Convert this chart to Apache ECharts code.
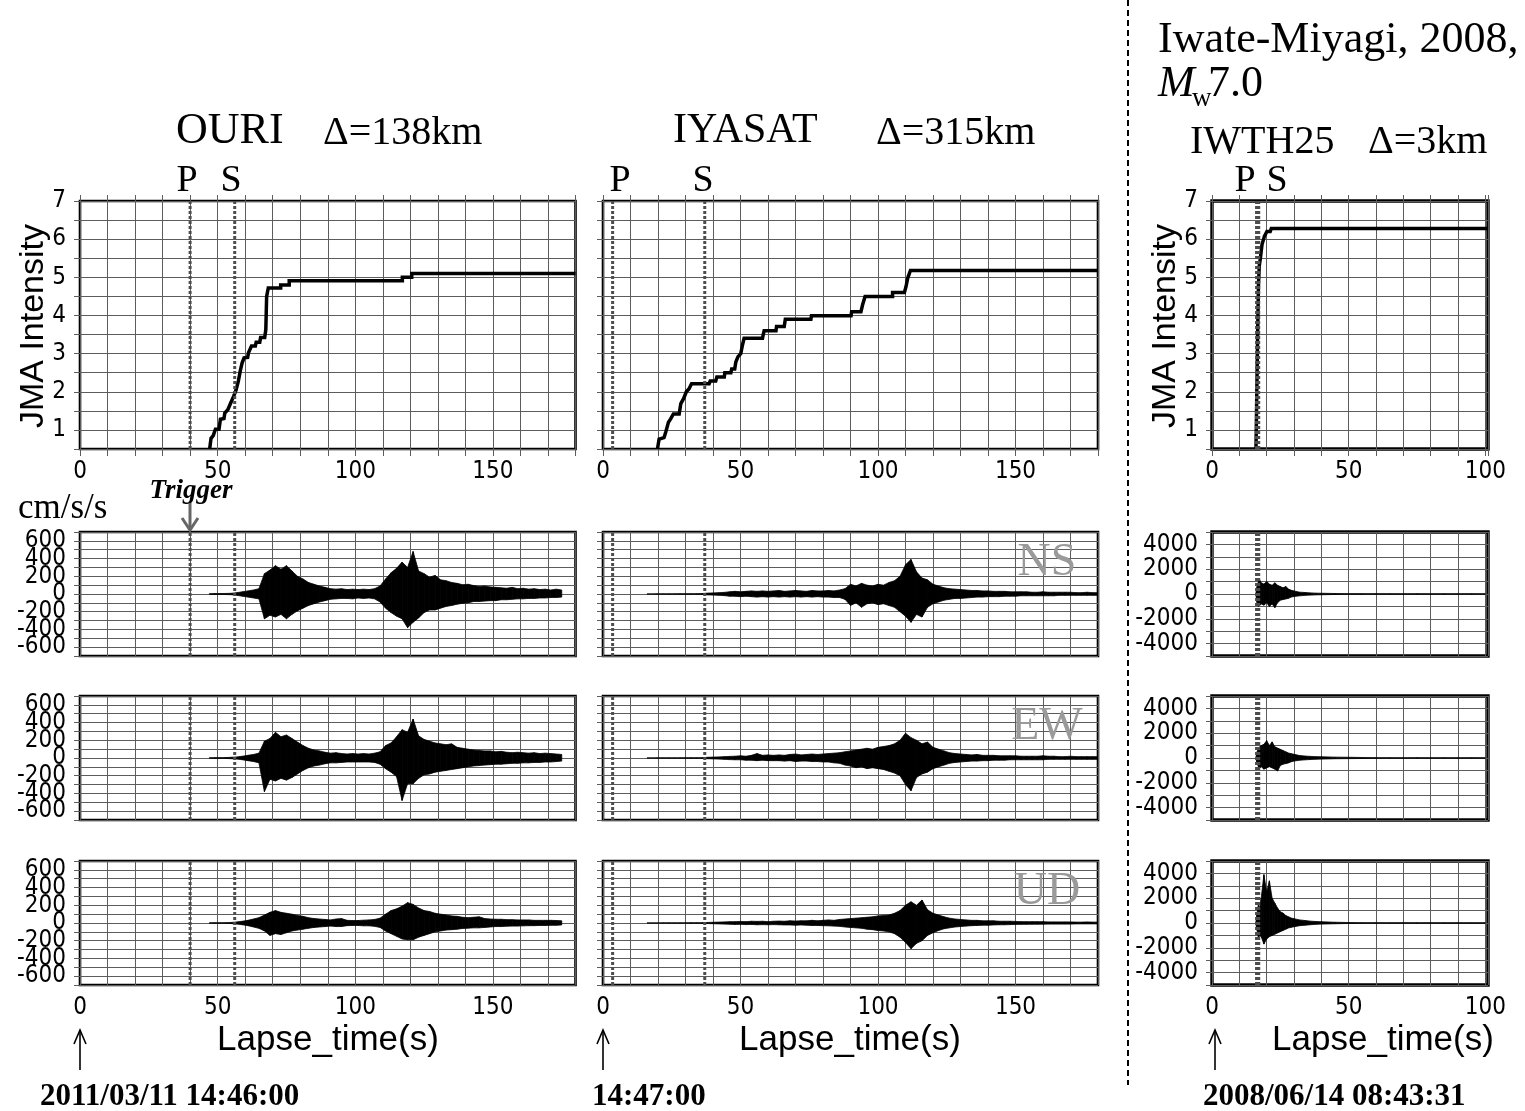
<!DOCTYPE html>
<html><head><meta charset="utf-8">
<script src="https://cdn.jsdelivr.net/npm/echarts/dist/echarts.min.js"></script>
<style>html,body{margin:0;padding:0;background:#fff}#c{width:1525px;height:1111px}</style>
</head><body><div id="c"></div><script>
// ---------------- DATA ----------------
// JMA seismic intensity growth curves: [lapse time (s), intensity]
const ouriJma = [[47.1,0.5],[47.6,0.78],[48.4,0.85],[49.2,1.02],[50.5,1.02],[51.0,1.28],[52.3,1.3],[52.6,1.44],[53.7,1.53],[54.7,1.7],[55.8,1.88],[56.7,2.05],[57.5,2.27],[58.2,2.54],[58.9,2.76],[59.6,2.89],[60.9,2.9],[61.2,3.02],[62.3,3.2],[63.7,3.2],[64.0,3.3],[65.3,3.3],[65.6,3.42],[67.1,3.42],[67.5,3.63],[67.8,4.5],[68.4,4.72],[72.9,4.72],[72.9,4.8],[76.0,4.8],[76.0,4.91],[117.1,4.91],[117.1,5.0],[120.5,5.0],[120.5,5.1],[180,5.1]];
const iyasatJma = [[19.8,0.5],[20.4,0.76],[22.2,0.8],[22.8,0.94],[23.8,1.2],[24.6,1.29],[25.6,1.42],[27.7,1.42],[28.3,1.69],[29.3,1.82],[30.3,2.0],[31.3,2.08],[32.2,2.21],[38.6,2.21],[39.0,2.28],[41.0,2.28],[41.4,2.39],[44.1,2.39],[44.3,2.5],[46.5,2.5],[46.8,2.6],[47.9,2.6],[48.3,2.78],[49.1,2.92],[50.1,3.0],[50.7,3.22],[51.3,3.4],[58.0,3.4],[58.3,3.51],[58.6,3.6],[62.9,3.6],[63.1,3.71],[65.9,3.71],[66.3,3.9],[75.6,3.9],[75.8,3.99],[90.2,3.99],[90.4,4.1],[93.8,4.1],[94.4,4.28],[95.3,4.5],[105.3,4.5],[105.3,4.6],[109.6,4.6],[110.2,4.76],[110.8,4.98],[111.8,5.18],[180,5.18]];
const iwth25Jma = [[16.1,0.5],[16.4,2.0],[16.7,3.5],[17.0,4.8],[17.3,5.3],[17.7,5.5],[18.3,5.86],[19.2,6.08],[20.1,6.2],[21.3,6.2],[21.7,6.28],[101,6.28]];

// P and S arrival times (s)
const ouriPS = [40, 56.2];
const iyasatPS = [3.5, 37];
const iwth25PS = [16.3, 17.1];

// Acceleration waveforms (cm/s/s): sample times, upper and lower envelope
const ouriT = [47,49,51,53,55,57,59,61,63,65,67,69,71,73,75,77,79,81,83,85,87,89,91,93,95,97,99,101,103,105,107,109,111,113,115,117,119,121,123,125,127,129,131,133,135,137,139,141,143,145,147,149,151,153,155,157,159,161,163,165,167,169,171,173,175];
const ouriNsHi = [4,5,5,6,8,15,25,35,45,60, 230,270,320,280,320,260,200,170,130,110, 90,75,60,55,60,50,55,50,55,50, 60,90,170,240,290,360,300,480,260,230, 190,210,160,150,130,120,105,110,95,85, 90,80,75,70,65,75,60,65,55,60, 50,55,45,55,45];
const ouriNsLo = [-4,-5,-5,-6,-8,-15,-25,-35,-45,-55, -280,-240,-260,-230,-280,-230,-190,-160,-130,-110, -90,-75,-60,-55,-50,-50,-55,-45,-50,-45, -55,-90,-160,-210,-250,-280,-380,-320,-270,-210, -180,-180,-160,-140,-130,-115,-105,-100,-85,-85, -80,-75,-75,-65,-65,-60,-55,-55,-50,-50, -45,-45,-40,-40,-35];
const ouriEwHi = [3,4,4,5,8,12,20,30,40,55, 190,220,290,240,260,220,180,140,110,90, 80,65,55,60,50,45,50,45,50,45, 55,70,140,170,240,320,290,440,250,210, 190,170,160,150,160,120,110,100,90,85, 80,80,70,75,65,60,65,60,55,60, 50,55,50,45,40];
const ouriEwLo = [-3,-4,-4,-5,-8,-12,-20,-30,-40,-55, -380,-240,-260,-230,-250,-220,-180,-140,-110,-90, -80,-65,-55,-55,-50,-45,-45,-45,-45,-45, -50,-70,-120,-160,-210,-480,-290,-290,-230,-190, -180,-160,-150,-140,-130,-120,-110,-100,-90,-85, -80,-75,-70,-70,-65,-60,-60,-55,-55,-50, -50,-45,-45,-40,-35];
const ouriUdHi = [2,3,3,4,6,12,20,30,45,60, 90,120,140,120,110,100,85,75,60,50, 45,40,35,45,50,30,28,28,32,35, 40,55,100,140,160,190,230,210,170,140, 130,110,100,90,80,75,65,60,65,70, 50,45,42,42,38,38,35,35,35,30, 30,30,30,28,25];
const ouriUdLo = [-2,-3,-3,-4,-6,-12,-20,-30,-45,-60, -90,-140,-120,-130,-110,-90,-80,-70,-60,-50, -45,-40,-35,-40,-40,-30,-28,-28,-32,-32, -38,-50,-90,-120,-150,-180,-190,-190,-160,-140, -120,-100,-90,-80,-75,-70,-62,-58,-55,-55, -50,-45,-40,-40,-36,-35,-35,-32,-30,-30, -28,-28,-26,-26,-22];

const iyasatT = [16,18,20,22,24,26,28,30,32,34,36,38,40,42,44,46,48,50,52,54,56,58,60,62,64,66,68,70,72,74,76,78,80,82,84,86,88,90,92,94,96,98,100,102,104,106,108,110,112,114,116,118,120,122,124,126,128,130,132,134,136,138,140,142,144,146,148,150,152,154,156,158,160,162,164,166,168,170,172,174,176,178,180];
const iyasatNsHi = [0.5,0.5,2,2,2,2,3,3,3,4, 5,10,12,15,18,25,30,25,30,35, 30,35,30,35,40,30,35,40,35,30, 40,35,35,40,35,45,60,110,90,120, 100,90,110,100,130,150,200,330,390,250, 180,160,110,90,70,60,55,50,45,40, 40,35,35,30,30,30,25,25,25,25, 20,20,25,20,20,20,20,20,15,15, 20,15,15];
const iyasatNsLo = [-0.5,-0.5,-2,-2,-2,-2,-3,-3,-3,-4, -5,-10,-12,-15,-18,-25,-25,-30,-25,-30, -35,-30,-35,-30,-35,-30,-35,-30,-35,-30, -35,-30,-35,-35,-40,-40,-60,-130,-100,-150, -110,-100,-120,-110,-130,-150,-200,-250,-320,-230, -260,-150,-110,-90,-70,-60,-50,-50,-45,-40, -35,-35,-30,-30,-30,-25,-25,-25,-20,-20, -20,-20,-20,-20,-20,-15,-15,-15,-15,-15, -15,-15,-15];
const iyasatEwHi = [1,1,2,2,2,2,2,3,3,3, 4,8,10,12,15,18,20,25,20,30, 50,30,35,30,35,30,40,45,35,40, 45,40,45,50,55,60,70,80,90,100, 110,100,120,130,140,160,200,280,230,200, 160,180,120,100,80,60,50,45,40,35, 40,30,30,30,25,25,25,25,20,20, 20,20,25,20,20,15,15,20,15,15, 15,15,15];
const iyasatEwLo = [-1,-1,-2,-2,-2,-2,-2,-3,-3,-3, -4,-8,-10,-12,-15,-18,-20,-20,-25,-25, -30,-25,-30,-30,-30,-35,-30,-40,-35,-35, -40,-40,-45,-45,-55,-60,-80,-90,-110,-100, -120,-110,-120,-130,-150,-170,-200,-300,-370,-220, -180,-160,-120,-100,-80,-60,-50,-45,-40,-35, -35,-30,-30,-25,-25,-25,-20,-20,-20,-20, -20,-20,-20,-15,-15,-15,-15,-15,-15,-15, -15,-15,-15];
const iyasatUdHi = [1,1,1,2,2,2,2,2,3,3, 4,6,8,10,12,15,15,18,15,20, 18,20,15,20,22,20,25,22,25,25, 30,25,30,35,30,40,45,50,55,60, 65,70,80,85,90,110,140,200,240,200, 260,150,110,90,70,55,45,40,35,30, 30,25,25,25,20,20,20,18,15,15, 15,15,15,12,12,12,12,12,10,10, 12,10,10];
const iyasatUdLo = [-1,-1,-1,-2,-2,-2,-2,-2,-3,-3, -4,-6,-8,-10,-12,-14,-16,-15,-18,-16, -20,-18,-20,-18,-20,-22,-22,-25,-22,-25, -28,-28,-30,-32,-35,-38,-45,-50,-55,-60, -70,-75,-85,-90,-100,-120,-160,-220,-290,-230, -200,-140,-110,-85,-65,-55,-45,-40,-35,-30, -28,-25,-25,-22,-20,-20,-18,-16,-15,-15, -14,-14,-13,-12,-12,-12,-12,-12,-10,-10, -10,-10,-10];

const iwth25T = [16,16.5,17,17.5,18,19,20,21,22,23,24,25,26,27,28,29,30,32,34,36,38,40,45,50,55,60,65,70,75,80,85,90,95,100];
const iwth25NsHi = [0,600,1000,1100,900,800,1000,800,700,900, 700,600,500,600,400,300,250,150,120,90, 70,60,40,30,30,30,30,25,30,25, 30,25,30,25];
const iwth25NsLo = [0,-700,-1000,-900,-800,-900,-700,-1000,-800,-1100, -700,-500,-450,-400,-350,-250,-200,-150,-110,-90, -70,-60,-40,-30,-30,-25,-30,-25,-30,-25, -30,-25,-25,-25];
const iwth25EwHi = [0,500,800,900,1000,1100,1400,1000,1300,900, 800,700,600,500,400,350,300,200,160,130, 110,100,70,60,40,30,30,25,30,25, 30,25,30,25];
const iwth25EwLo = [0,-400,-700,-800,-700,-900,-800,-700,-800,-900, -1050,-600,-500,-450,-400,-300,-250,-180,-150,-120, -100,-90,-60,-50,-40,-30,-25,-25,-25,-25, -25,-25,-25,-25];
const iwth25UdHi = [0,800,1500,1200,2000,3900,2500,3400,2000,1600, 1200,900,800,600,500,400,350,250,200,150, 120,100,60,40,30,30,25,30,25,30, 25,25,25,25];
const iwth25UdLo = [0,-600,-1200,-1000,-1100,-1700,-1300,-1100,-1000,-900, -800,-700,-600,-500,-400,-350,-300,-220,-180,-140, -110,-90,-60,-40,-30,-25,-25,-25,-25,-25, -25,-25,-25,-25];

const xMaxByCol = [180, 180, 101];
const xTickLabels = [0, 50, 100, 150];

// ---------------- LAYOUT ----------------
const SANS = '"Liberation Sans", Arial, sans-serif';
const TICKF = '"Liberation Sans Narrow", "DejaVu Sans Condensed", "Liberation Sans", Arial, sans-serif';
const SERIF = '"Liberation Serif", "Times New Roman", serif';
const colLeft = [80, 603, 1212];
const colWidth = [495.5, 495, 276];
const colBorder = [2.6, 2.6, 3.4];
const rowTop = [201, 532, 696, 861];
const rowHeight = [248, 124, 124, 124];
const GRIDC = '#5c5c5c';

const grids = [], xAxes = [], yAxes = [], xAxesTop = [], yAxesRight = [], series = [];
function gi(r, c) { return r * 3 + c; }

for (let r = 0; r < 4; r++) {
  for (let c = 0; c < 3; c++) {
    const g = gi(r, c);
    grids.push({ left: colLeft[c], top: rowTop[r], width: colWidth[c], height: rowHeight[r], show: true, borderColor: '#000', borderWidth: colBorder[c], backgroundColor: 'transparent', containLabel: false });
    const showX = (r === 0 || r === 3);
    xAxes.push({ type: 'value', gridIndex: g, position: 'bottom', min: 0, max: xMaxByCol[c], interval: 10,
      axisLine: { show: false }, axisTick: { show: true, length: 7, lineStyle: { color: GRIDC } },
      axisLabel: { show: showX, margin: 11, fontSize: 24, fontFamily: TICKF, color: '#000', formatter: v => xTickLabels.indexOf(v) >= 0 ? String(v) : '' },
      splitLine: { show: true, lineStyle: { color: GRIDC, width: 1 } } });
    xAxesTop.push({ type: 'value', gridIndex: g, position: 'top', min: 0, max: xMaxByCol[c], interval: 10,
      axisLine: { show: false }, axisTick: { show: true, length: 6, lineStyle: { color: GRIDC } }, axisLabel: { show: false }, splitLine: { show: false } });
    let ymin, ymax, yint, fmt;
    if (r === 0) { ymin = 0.5; ymax = 7; yint = 0.5; fmt = v => Number.isInteger(v) ? String(v) : ''; }
    else if (c < 2) { ymin = -700; ymax = 700; yint = 100; fmt = v => (Math.round(v) % 200 === 0) ? String(v) : ''; }
    else { ymin = -5000; ymax = 5000; yint = 1000; fmt = v => (Math.round(v) % 2000 === 0) ? String(v) : ''; }
    yAxes.push({ type: 'value', gridIndex: g, position: 'left', min: ymin, max: ymax, interval: yint,
      axisLine: { show: false }, axisTick: { show: true, length: 6, lineStyle: { color: GRIDC } },
      axisLabel: { show: c !== 1, margin: 14, fontSize: 24, fontFamily: TICKF, color: '#000', formatter: fmt },
      splitLine: { show: true, lineStyle: { color: GRIDC, width: 1 } } });
    yAxesRight.push({ type: 'value', gridIndex: g, position: 'right', min: ymin, max: ymax, interval: yint,
      axisLine: { show: false }, axisTick: { show: true, length: 6, lineStyle: { color: GRIDC } }, axisLabel: { show: false }, splitLine: { show: false } });
  }
}

function bandSeries(T, hi, lo, g) {
  return {
    type: 'custom', xAxisIndex: g, yAxisIndex: g, clip: true, silent: true, animation: false, z: 3,
    data: T.map((t, i) => [t, lo[i], hi[i]]),
    encode: { x: 0, y: [1, 2] },
    renderItem: function (params, api) {
      const i = params.dataIndex;
      if (i >= T.length - 1) return null;
      const a = api.coord([T[i], hi[i]]), b = api.coord([T[i + 1], hi[i + 1]]);
      const cc = api.coord([T[i + 1], lo[i + 1]]), d = api.coord([T[i], lo[i]]);
      return { type: 'polygon', shape: { points: [a, b, cc, d] }, style: { fill: '#000', stroke: '#000', lineWidth: 0.8 } };
    }
  };
}
function vline(t, g, y0, y1, w) {
  return { type: 'line', xAxisIndex: g, yAxisIndex: g, data: [[t, y0], [t, y1]], symbol: 'none', silent: true, animation: false, z: 6,
    lineStyle: { color: '#4d4d4d', width: w, type: [3, 2], cap: 'butt' } };
}
function jmaSeries(data, g) {
  return { type: 'line', xAxisIndex: g, yAxisIndex: g, data: data, symbol: 'none', silent: true, animation: false, z: 5,
    lineStyle: { color: '#000', width: 3.5, join: 'miter' } };
}

const jmaByCol = [ouriJma, iyasatJma, iwth25Jma];
const psByCol = [ouriPS, iyasatPS, iwth25PS];
const waves = [
  [[ouriT, ouriNsHi, ouriNsLo], [iyasatT, iyasatNsHi, iyasatNsLo], [iwth25T, iwth25NsHi, iwth25NsLo]],
  [[ouriT, ouriEwHi, ouriEwLo], [iyasatT, iyasatEwHi, iyasatEwLo], [iwth25T, iwth25EwHi, iwth25EwLo]],
  [[ouriT, ouriUdHi, ouriUdLo], [iyasatT, iyasatUdHi, iyasatUdLo], [iwth25T, iwth25UdHi, iwth25UdLo]]
];

for (let c = 0; c < 3; c++) {
  series.push(jmaSeries(jmaByCol[c], gi(0, c)));
  psByCol[c].forEach(t => series.push(vline(t, gi(0, c), 0.5, 7, 3)));
  for (let r = 1; r < 4; r++) {
    const w = waves[r - 1][c];
    series.push(bandSeries(w[0], w[1], w[2], gi(r, c)));
    const lim = c < 2 ? 700 : 5000;
    psByCol[c].forEach(t => series.push(vline(t, gi(r, c), -lim, lim, 3)));
  }
}

// ---------------- TEXT / ANNOTATIONS ----------------
const G = [];
function txt(x, y, text, font, align, extra) {
  const el = { type: 'text', x: x, y: y, z: 10, silent: true,
    style: Object.assign({ text: text, font: font, fill: '#000', textAlign: align || 'left', align: align || 'left', textVerticalAlign: 'middle', verticalAlign: 'middle' }, extra || {}) };
  G.push(el); return el;
}
function arrowUp(x, yTop, yBot) {
  G.push({ type: 'line', z: 10, silent: true, shape: { x1: x, y1: yBot, x2: x, y2: yTop }, style: { stroke: '#000', lineWidth: 1.6 } });
  G.push({ type: 'polyline', z: 10, silent: true, shape: { points: [[x - 6, yTop + 14], [x, yTop], [x + 6, yTop + 14]] }, style: { stroke: '#000', lineWidth: 1.6, fill: null } });
}

txt(1158, 40, 'Iwate-Miyagi, 2008,', '44px ' + SERIF);
txt(1158, 84, 'M', 'italic 44px ' + SERIF);
txt(1192, 99, 'w', '27px ' + SERIF);
txt(1208, 84, '7.0', '44px ' + SERIF);

txt(176, 131, 'OURI', '44px ' + SERIF);
txt(323, 133, 'Δ=138km', '40px ' + SERIF);
txt(673, 131, 'IYASAT', '42px ' + SERIF);
txt(876, 133, 'Δ=315km', '40px ' + SERIF);
txt(1190, 142, 'IWTH25', '40px ' + SERIF);
txt(1368, 142, 'Δ=3km', '40px ' + SERIF);

[[187, 'P'], [231, 'S'], [620, 'P'], [703, 'S'], [1245, 'P'], [1277, 'S']].forEach(p => txt(p[0], 181, p[1], '38px ' + SERIF, 'center'));

txt(18, 509, 'cm/s/s', '35px ' + SERIF);
txt(191, 491, 'Trigger', 'italic bold 27px ' + SERIF, 'center');
G.push({ type: 'line', z: 10, silent: true, shape: { x1: 190, y1: 503, x2: 190, y2: 529 }, style: { stroke: '#666', lineWidth: 3 } });
G.push({ type: 'polyline', z: 10, silent: true, shape: { points: [[182, 518], [190, 530], [198, 518]] }, style: { stroke: '#666', lineWidth: 3, fill: null } });

[['NS', 563], ['EW', 727], ['UD', 892]].forEach(p => txt(1047, p[1], p[0], '46px ' + SERIF, 'center', { fill: '#9a9a9a' }));

[34, 1166].forEach(x => { const e = txt(x, 326, 'JMA Intensity', '34px ' + SANS, 'center'); e.rotation = Math.PI / 2; });
[328, 850, 1383].forEach(x => txt(x, 1040, 'Lapse_time(s)', '35px ' + SANS, 'center'));
[80, 603, 1215].forEach(x => arrowUp(x, 1030, 1070));

txt(40, 1097, '2011/03/11 14:46:00', 'bold 31px ' + SERIF);
txt(592, 1097, '14:47:00', 'bold 31px ' + SERIF);
txt(1203, 1097, '2008/06/14 08:43:31', 'bold 31px ' + SERIF);

G.push({ type: 'line', z: 10, silent: true, shape: { x1: 1128, y1: 0, x2: 1128, y2: 1085 }, style: { stroke: '#000', lineWidth: 2, lineDash: [6, 4] } });

const chart = echarts.init(document.getElementById('c'), null, { renderer: 'canvas' });
chart.setOption({
  animation: false,
  backgroundColor: '#fff',
  grid: grids,
  xAxis: xAxes.concat(xAxesTop),
  yAxis: yAxes.concat(yAxesRight),
  series: series,
  graphic: { elements: G }
});
</script></body></html>
